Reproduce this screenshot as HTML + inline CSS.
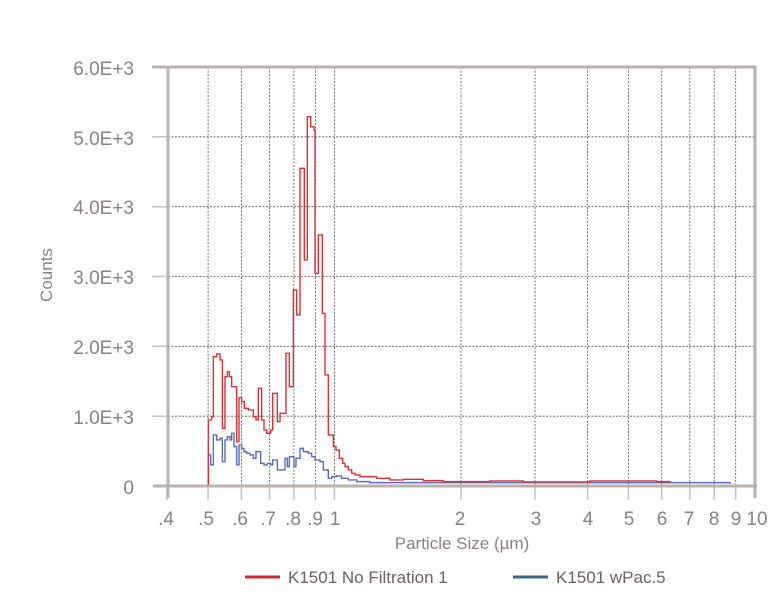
<!DOCTYPE html>
<html><head><meta charset="utf-8"><style>
body{margin:0;background:#fff;}
svg text{font-family:"Liberation Sans",sans-serif;fill:#8a8280;}
</style></head><body>
<svg width="780" height="593" viewBox="0 0 780 593" xmlns="http://www.w3.org/2000/svg">
<g stroke="#555" stroke-width="0.8" stroke-dasharray="2,1.5" fill="none">
<path d="M208.1,67V486M241.4,67V486M269.5,67V486M293.9,67V486M315.4,67V486M334.4,67V486M461,67V486M535,67V486M587.6,67V486M628.4,67V486M661.7,67V486M689.8,67V486M714.2,67V486M735.7,67V486"/>
<path d="M168,416.2H755M168,346.3H755M168,276.5H755M168,206.7H755M168,136.8H755"/>
</g>
<g stroke="#c8c2be" stroke-width="1.5">
<path d="M167,486V500M208.1,486V500M241.4,486V500M269.5,486V500M293.9,486V500M315.4,486V500M334.4,486V500M461,486V500M535,486V500M587.6,486V500M628.4,486V500M661.7,486V500M689.8,486V500M714.2,486V500M735.7,486V500"/>
<path d="M152,416.2H168M152,346.3H168M152,276.5H168M152,206.7H168M152,136.8H168"/>
</g>
<g stroke="#bab2ac" stroke-width="3" fill="none">
<path d="M152,67H755V498M153,486H757M168,67V498"/>
</g>
<g transform="translate(190,100) scale(0.3333)" fill="none">
<path vector-effect="non-scaling-stroke" stroke="#5a6fb8" stroke-width="1.4" d="M55,1155 V1065 H62 V1095 H70 V1005 H80 V1020 H90 V1015 H97 V1085 H105 V1020 H112 V1010 H120 V1020 H125 V1000 H132 V1040 H140 V1095 H147 V1035 H155 V1045 H162 V1055 H170 V1060 H180 V1065 H190 V1075 H198 V1055 H212 V1090 H222 V1095 H232 V1090 H242 V1095 H248 V1080 H262 V1110 H285 V1075 H292 V1100 H298 V1070 H312 V1100 H318 V1075 H330 V1045 H340 V1055 H355 V1060 H365 V1070 H375 V1080 H390 V1085 H400 V1110 H415 V1135 H425 V1130 H440 V1128 H455 V1135 H475 V1140 H500 V1145 H540 V1148 H1620 V1152"/>
<path vector-effect="non-scaling-stroke" stroke="#e03038" stroke-width="1.4" d="M55,1155 V960 H65 V950 H70 V770 H80 V762 H90 V780 H97 V985 H105 V830 H112 V815 H118 V830 H125 V860 H140 V1025 H147 V893 H155 V905 H163 V925 H175 V930 H190 V950 H198 V960 H205 V865 H215 V960 H222 V990 H230 V1000 H242 V990 H248 V880 H262 V965 H270 V940 H288 V760 H298 V860 H310 V570 H320 V645 H330 V205 H343 V480 H352 V50 H362 V80 H372 V90 H375 V520 H385 V405 H397 V640 H405 V825 H415 V1005 H430 V1040 H438 V1050 H448 V1075 H458 V1090 H465 V1100 H475 V1110 H485 V1120 H495 V1125 H510 V1130 H560 V1135 H600 V1140 H640 V1138 H700 V1142 H760 V1145 H900 V1143 H1000 V1146 H1200 V1143 H1400 V1145 H1440 V1150"/>
</g>
<g font-size="19" text-anchor="end">
<text x="134" y="494">0</text>
<text x="134" y="424">1.0E+3</text>
<text x="134" y="354">2.0E+3</text>
<text x="134" y="284">3.0E+3</text>
<text x="134" y="214">4.0E+3</text>
<text x="134" y="145">5.0E+3</text>
<text x="134" y="75">6.0E+3</text>
</g>
<g font-size="19" text-anchor="middle">
<text x="166" y="525">.4</text><text x="206" y="525">.5</text><text x="240" y="525">.6</text>
<text x="268" y="525">.7</text><text x="293" y="525">.8</text><text x="315" y="525">.9</text>
<text x="335" y="525">1</text><text x="460" y="525">2</text><text x="536" y="525">3</text>
<text x="588" y="525">4</text><text x="629" y="525">5</text><text x="662" y="525">6</text>
<text x="689" y="525">7</text><text x="714" y="525">8</text><text x="736" y="525">9</text><text x="757" y="525">10</text>
</g>
<text x="462" y="549" font-size="17" text-anchor="middle">Particle Size (µm)</text>
<text transform="translate(52,275) rotate(-90)" font-size="17" text-anchor="middle">Counts</text>
<line x1="245" y1="577" x2="280" y2="577" stroke="#d0282e" stroke-width="3"/>
<text x="288" y="583" font-size="17" style="fill:#6a6260">K1501 No Filtration 1</text>
<line x1="513" y1="577" x2="548" y2="577" stroke="#3d6684" stroke-width="3"/>
<text x="556" y="583" font-size="17" style="fill:#6a6260">K1501 wPac.5</text>
</svg>
</body></html>
